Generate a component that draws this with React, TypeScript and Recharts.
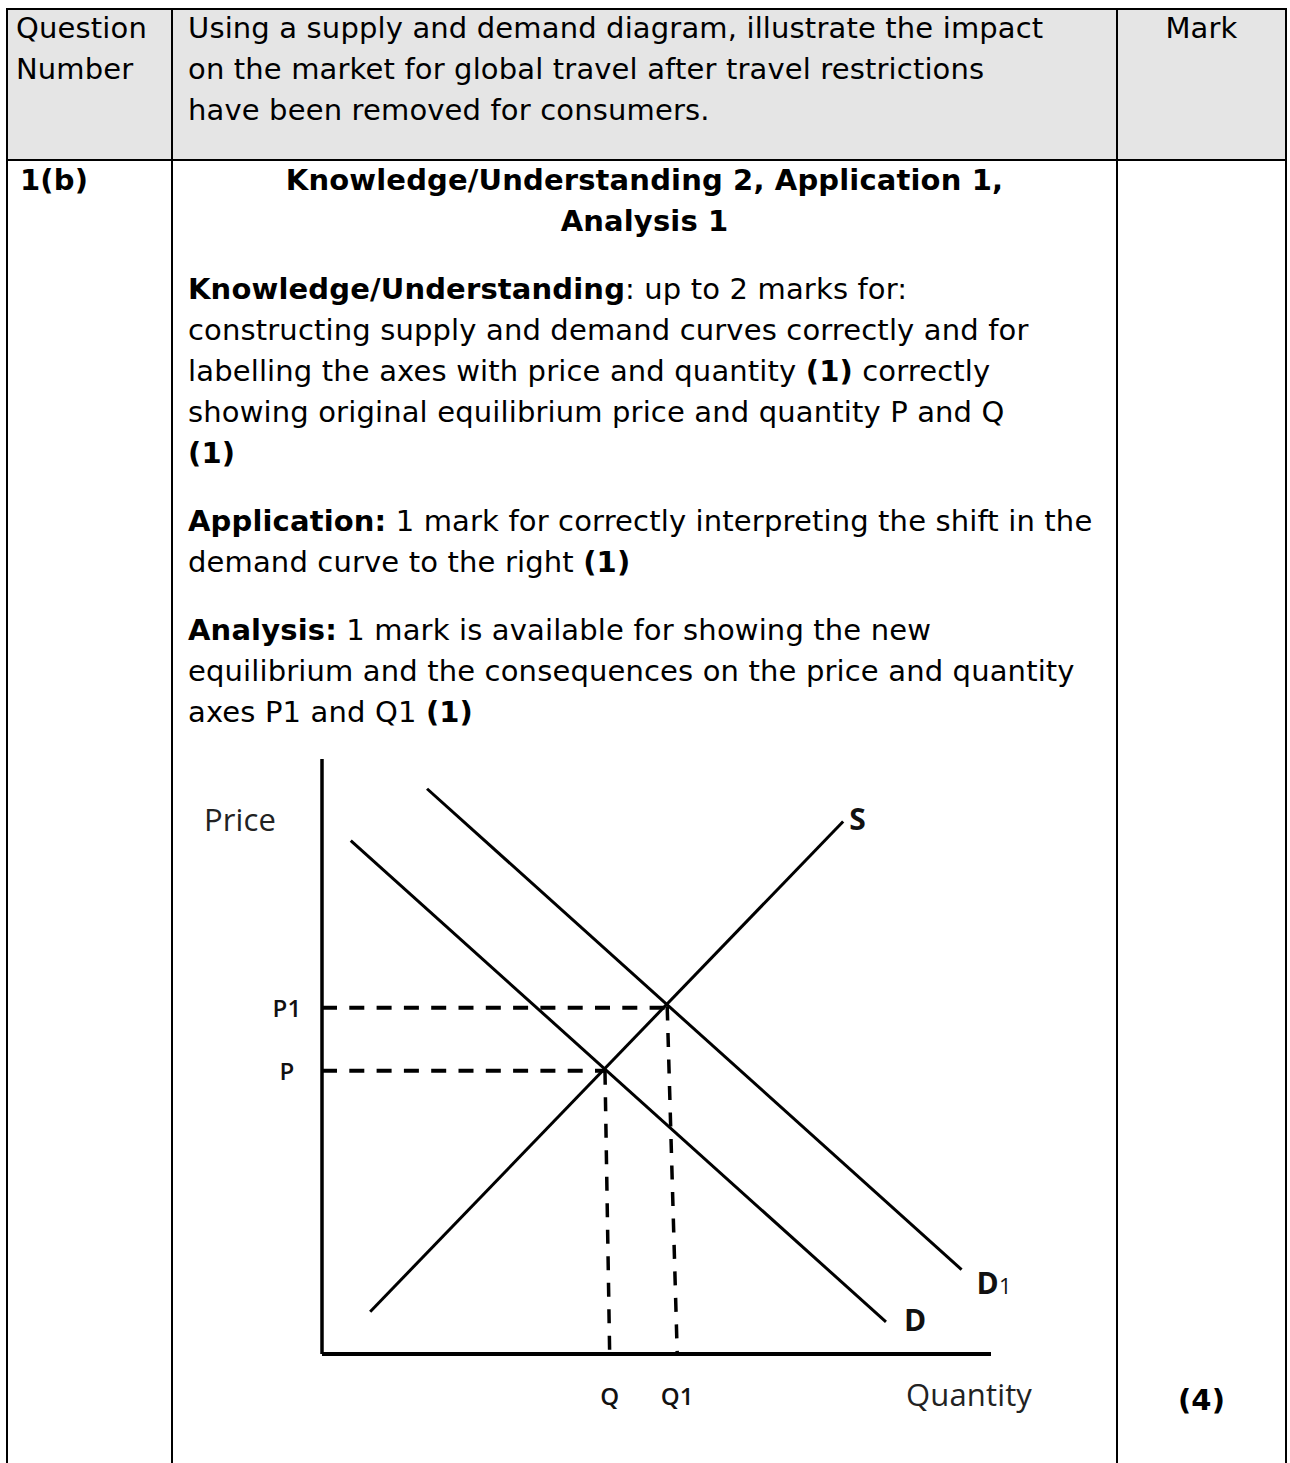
import React from 'react';
import { LineChart, Line, XAxis, YAxis } from 'recharts';

// ---- chart data (quantity q, price p) ----
const supplyCurve = [
  { q: 7.2, p: 7.1 },
  { q: 77.9, p: 89.5 },
];
const demandCurve = [
  { q: 4.3, p: 86.3 },
  { q: 84.3, p: 5.4 },
];
const demandCurveNew = [
  { q: 15.7, p: 95.0 },
  { q: 95.6, p: 14.2 },
];
const priceGuideP = [
  { q: 0, p: 47.6 },
  { q: 42.3, p: 47.6 },
];
const priceGuideP1 = [
  { q: 0, p: 58.2 },
  { q: 51.6, p: 58.2 },
];
const qtyGuideQ = [
  { q: 42.3, p: 47.6 },
  { q: 43.0, p: 0 },
];
const qtyGuideQ1 = [
  { q: 51.6, p: 58.4 },
  { q: 53.1, p: 0 },
];
const priceTicks = [47.6, 58.2];
const priceTickLabels = ['P', 'P1'];
const qtyTicks = [43.0, 53.1];
const qtyTickLabels = ['Q', 'Q1'];
const axisTitles = ['Price', 'Quantity'];
const curveNames = ['S', 'D', 'D', '1'];

const CHART_FONT = '"Open Sans", "Noto Sans", sans-serif';

const PriceTick = (props: any) => {
  const { x, y, payload } = props;
  const i = priceTicks.indexOf(payload.value);
  return (
    <text x={x} y={y} textAnchor="middle" dominantBaseline="central" fontFamily={CHART_FONT} fontWeight={600} fontSize={24} fill="#111">
      {priceTickLabels[i]}
    </text>
  );
};

const QtyTick = (props: any) => {
  const { x, y, payload } = props;
  const i = qtyTicks.indexOf(payload.value);
  return (
    <text x={x} y={y + 51} textAnchor="middle" fontFamily={CHART_FONT} fontWeight={600} fontSize={24} fill="#111">
      {qtyTickLabels[i]}
    </text>
  );
};

const AxisTitle = (props: any) => {
  const vb = props.viewBox || { x: 0, y: 0 };
  return (
    <text x={vb.x + props.dx} y={vb.y + props.dy} fontFamily={CHART_FONT} fontSize={31} fill="#222">
      {props.text}
    </text>
  );
};

const endLabel = (series: { q: number; p: number }[], main: string, sub: string, dx: number, dy: number) => (props: any) => {
  const last = series[series.length - 1];
  const x = props.x ?? props.viewBox?.x;
  const y = props.y ?? props.viewBox?.y;
  if (props.value !== last.p) return null;
  if (props.index !== undefined && props.index !== series.length - 1) return null;
  if (x === undefined || y === undefined) return null;
  return (
    <text x={x + dx} y={y + dy} fontFamily={CHART_FONT} fontWeight={700} fontSize={30} fill="#111">
      <tspan>{main}</tspan>
      {sub ? <tspan fontWeight={400} fontSize={22}>{sub}</tspan> : null}
    </text>
  );
};

const solid = { stroke: '#000', strokeWidth: 3, dot: false, activeDot: false, isAnimationActive: false, type: 'linear' as const, dataKey: 'p' };
const dashedH = { ...solid, strokeWidth: 4, strokeDasharray: '15 12.3' };
const dashedV = { ...solid, strokeWidth: 3.5, strokeDasharray: '14 12.5' };

function SupplyDemandChart() {
  return (
    <LineChart width={911} height={684} margin={{ top: 19, right: 100, bottom: 0, left: 0 }}>
      <XAxis
        dataKey="q"
        type="number"
        domain={[0, 100]}
        allowDataOverflow
        ticks={qtyTicks}
        interval={0}
        height={70}
        tickSize={0}
        tickMargin={0}
        tickLine={false}
        tick={<QtyTick />}
        axisLine={{ stroke: '#000', strokeWidth: 4 }}
        label={<AxisTitle text={axisTitles[1]} dx={584} dy={52} />}
      />
      <YAxis
        type="number"
        domain={[0, 100]}
        allowDataOverflow
        ticks={priceTicks}
        interval={0}
        width={142}
        tickSize={0}
        tickMargin={35}
        tickLine={false}
        tick={<PriceTick />}
        axisLine={{ stroke: '#000', strokeWidth: 3.5 }}
        label={<AxisTitle text={axisTitles[0]} dx={24} dy={72} />}
      />
      <Line {...dashedH} data={priceGuideP} />
      <Line {...dashedH} data={priceGuideP1} />
      <Line {...dashedV} data={qtyGuideQ} />
      <Line {...dashedV} data={qtyGuideQ1} />
      <Line {...solid} data={supplyCurve} label={endLabel(supplyCurve, curveNames[0], '', 6, 9)} />
      <Line {...solid} data={demandCurve} label={endLabel(demandCurve, curveNames[1], '', 18, 9)} />
      <Line {...solid} data={demandCurveNew} label={endLabel(demandCurveNew, curveNames[2], curveNames[3], 15, 24)} />
    </LineChart>
  );
}

const TEXT_FONT = '"DejaVu Sans", Verdana, sans-serif';

const line = (style: React.CSSProperties): React.CSSProperties => ({ position: 'absolute', background: '#000', ...style });

export default function App() {
  return (
    <div
      style={{
        position: 'fixed',
        left: 0,
        top: 0,
        width: 1290,
        height: 1463,
        overflow: 'hidden',
        background: '#fff',
        fontFamily: TEXT_FONT,
        fontSize: 29,
        lineHeight: '41px',
        letterSpacing: '0.15px',
        color: '#000',
      }}
    >
      <div style={{ position: 'absolute', left: 8, top: 10, width: 1277, height: 149, background: '#e5e5e5' }} />
      <div style={line({ left: 6, top: 8, width: 1281, height: 2 })} />
      <div style={line({ left: 6, top: 159, width: 1281, height: 2 })} />
      <div style={line({ left: 6, top: 8, width: 2, height: 1470 })} />
      <div style={line({ left: 171, top: 8, width: 2, height: 1470 })} />
      <div style={line({ left: 1116, top: 8, width: 2, height: 1470 })} />
      <div style={line({ left: 1285, top: 8, width: 2, height: 1470 })} />

      <div style={{ position: 'absolute', left: 16, top: 8, whiteSpace: 'nowrap' }}>
        Question
        <br />
        Number
      </div>
      <div style={{ position: 'absolute', left: 188, top: 8, whiteSpace: 'nowrap' }}>
        Using a supply and demand diagram, illustrate the impact
        <br />
        on the market for global travel after travel restrictions
        <br />
        have been removed for consumers.
      </div>
      <div style={{ position: 'absolute', left: 1118, width: 167, top: 8, textAlign: 'center' }}>Mark</div>

      <div style={{ position: 'absolute', left: 20, top: 160, fontWeight: 700 }}>1(b)</div>
      <div style={{ position: 'absolute', left: 173, width: 943, top: 160, textAlign: 'center', fontWeight: 700, whiteSpace: 'nowrap' }}>
        Knowledge/Understanding 2, Application 1,
        <br />
        Analysis 1
      </div>
      <div style={{ position: 'absolute', left: 188, top: 269, whiteSpace: 'nowrap' }}>
        <div>
          <b>Knowledge/Understanding</b>: up to 2 marks for:
          <br />
          constructing supply and demand curves correctly and for
          <br />
          labelling the axes with price and quantity <b>(1)</b> correctly
          <br />
          showing original equilibrium price and quantity P and Q
          <br />
          <b>(1)</b>
        </div>
        <div style={{ marginTop: 27 }}>
          <b>Application:</b> 1 mark for correctly interpreting the shift in the
          <br />
          demand curve to the right <b>(1)</b>
        </div>
        <div style={{ marginTop: 27 }}>
          <b>Analysis:</b> 1 mark is available for showing the new
          <br />
          equilibrium and the consequences on the price and quantity
          <br />
          axes P1 and Q1 <b>(1)</b>
        </div>
      </div>
      <div style={{ position: 'absolute', left: 1118, width: 167, top: 1380, textAlign: 'center', fontWeight: 700 }}>(4)</div>

      <div style={{ position: 'absolute', left: 180, top: 740 }}>
        <SupplyDemandChart />
      </div>
    </div>
  );
}
